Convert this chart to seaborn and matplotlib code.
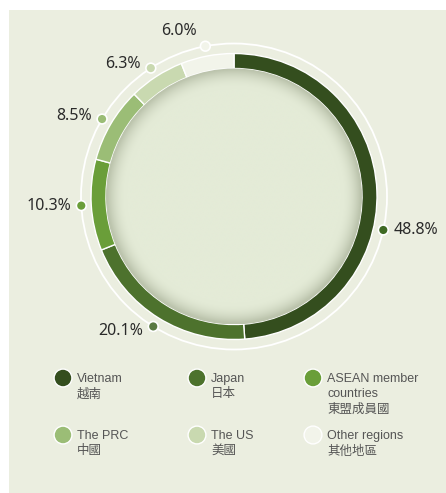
import numpy as np
import pandas as pd
import matplotlib
matplotlib.use("Agg")
import matplotlib.pyplot as plt
from matplotlib.patches import Rectangle, Circle
from matplotlib.colors import to_rgb
import seaborn as sns

# ---------------- data ----------------
regions_en = ["Vietnam", "Japan", "ASEAN member\ncountries", "The PRC", "The US", "Other regions"]
regions_zh = ["越南", "日本", "東盟成員國", "中國", "美國", "其他地區"]
shares = [48.8, 20.1, 10.3, 8.5, 6.3, 6.0]
share_labels = ["48.8%", "20.1%", "10.3%", "8.5%", "6.3%", "6.0%"]
colors = ["#344e1e", "#4d722d", "#6a9e39", "#9bbd76", "#c9d9b0", "#f2f4ea"]
dot_colors = ["#3f6a24", "#5a7a43", "#6a9e39", "#9bbd76", "#c9d9b0", "#f2f4ea"]
label_nudge_deg = [-14.8, 0, 0, 0, 0, 0]

sns.set_theme(style="white")
plt.rcParams["font.family"] = ["Noto Sans", "Noto Sans CJK TC", "DejaVu Sans"]

W, H = 446, 493
fig = plt.figure(figsize=(W / 100, H / 100), dpi=100, facecolor="white")
ax = fig.add_axes([0, 0, 1, 1])

def Y(yp):
    return H - yp

# panel background
ax.add_patch(Rectangle((9, 0), W - 9, H - 10, facecolor="#ebeee0", edgecolor="none", zorder=0))

cx, cy = 234, Y(196.5)
R_out, ring_w, R_guide = 143, 15, 153

# outer white guide circle
ax.add_patch(Circle((cx, cy), R_guide, facecolor="none", edgecolor="white", lw=1.3, zorder=1))

# inner circle with rim shadow (radial gradient)
r_in = R_out - ring_w
n = 400
xs = np.linspace(-1, 1, n)
XX, YY = np.meshgrid(xs, xs)
rr = np.sqrt(XX ** 2 + YY ** 2)
base = np.array(to_rgb("#e4ebd7"))
dark = np.array(to_rgb("#bcc4ad"))
t = np.clip((rr - 0.84) / 0.15, 0, 1) ** 2.0
img = base[None, None, :] * (1 - t[..., None]) + dark[None, None, :] * t[..., None]
im = ax.imshow(img, extent=(cx - r_in, cx + r_in, cy - r_in, cy + r_in), origin="lower",
               zorder=2, interpolation="bilinear")
clip = Circle((cx, cy), r_in, transform=ax.transData)
im.set_clip_path(clip)

# donut ring
ax.pie(shares, colors=colors, startangle=90, counterclock=False, radius=R_out,
       center=(cx, cy), wedgeprops=dict(width=ring_w, edgecolor="white", linewidth=1.0),
       frame=True)

# label dots on guide circle
cum = np.cumsum([0] + shares[:-1])
mid = 90 - (cum + np.array(shares) / 2) * 3.6 + np.array(label_nudge_deg)
rad = np.deg2rad(mid)
dot_df = pd.DataFrame({
    "x": cx + R_guide * np.cos(rad),
    "y": cy + R_guide * np.sin(rad),
    "region": regions_en,
})
sns.scatterplot(data=dot_df, x="x", y="y", hue="region", palette=dot_colors, s=50,
                edgecolor="white", linewidth=1.2, legend=False, ax=ax, zorder=5)

for (x, y, a, lab) in zip(dot_df["x"], dot_df["y"], rad, share_labels):
    s, c = np.sin(a), np.cos(a)
    if c > 0.1:
        ax.text(x + 10, y, lab, ha="left", va="center", fontsize=11.5, color="#2a2a2a", zorder=6)
    elif s > 0.95:
        ax.text(x - 9, y + 15, lab, ha="right", va="center", fontsize=11.5, color="#2a2a2a", zorder=6)
    else:
        ax.text(x - 10, y + 5 * s, lab, ha="right", va="center", fontsize=11.5, color="#2a2a2a", zorder=6)

# legend
leg_x = [63, 197, 313]
leg_y = [378, 435]
leg_df = pd.DataFrame({
    "x": [leg_x[i % 3] for i in range(6)],
    "y": [Y(leg_y[i // 3]) for i in range(6)],
    "region": regions_en,
})
sns.scatterplot(data=leg_df, x="x", y="y", hue="region", palette=colors, s=165,
                edgecolor="white", linewidth=1.0, legend=False, ax=ax, zorder=5)
for (x, y, en, zh) in zip(leg_df["x"], leg_df["y"], regions_en, regions_zh):
    ax.text(x + 14, y + 5, en + "\n" + zh, ha="left", va="top", fontsize=9,
            color="#555555", linespacing=1.35,
            family=["Liberation Sans", "Noto Sans CJK TC"], zorder=6)

ax.set_xlim(0, W)
ax.set_ylim(0, H)
ax.set_aspect("equal")
ax.axis("off")
fig.savefig("out.png", dpi=100, facecolor="white")
